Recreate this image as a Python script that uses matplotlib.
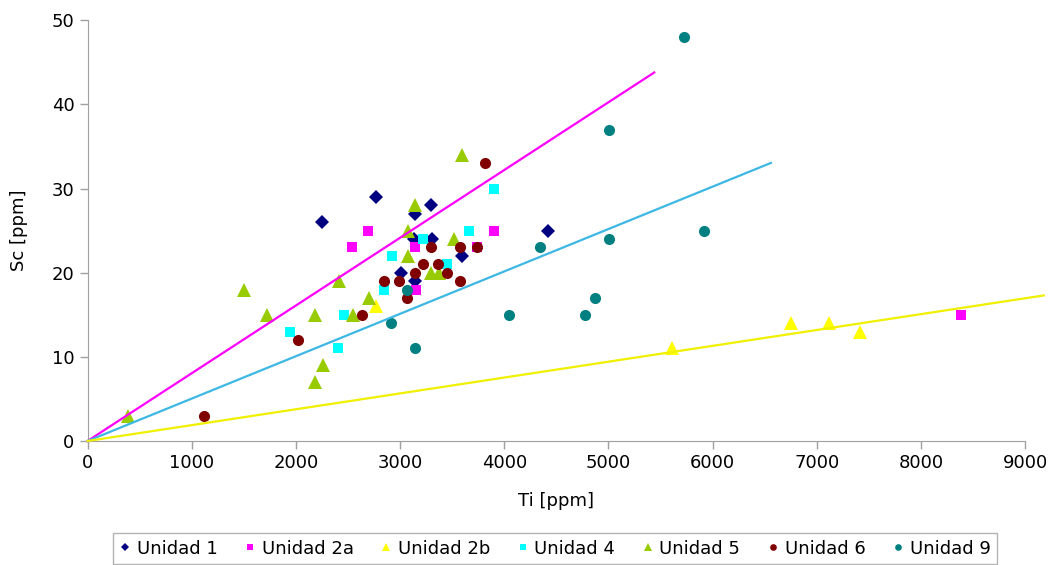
import matplotlib
matplotlib.use("Agg")
import matplotlib.pyplot as plt

plt.rcParams["font.family"] = ["DejaVu Sans"]

# Unidad 1
u1_ti = [2770, 2250, 3300, 3140, 4420, 3130, 3310, 3590, 3010, 3140]
u1_sc = [29, 26, 28, 27, 25, 24, 24, 22, 20, 19]
# Unidad 2a
u2a_ti = [2690, 2540, 3900, 3140, 3740, 3150, 8390]
u2a_sc = [25, 23, 25, 23, 23, 18, 15]
# Unidad 2b
u2b_ti = [2770, 5610, 6750, 7120, 7420]
u2b_sc = [16, 11, 14, 14, 13]
# Unidad 4
u4_ti = [2920, 2850, 2460, 1940, 2400, 3900, 3660, 3220, 3450]
u4_sc = [22, 18, 15, 13, 11, 30, 25, 24, 21]
# Unidad 5
u5_ti = [390, 1500, 1720, 2180, 2410, 2700, 2550, 2260, 2180, 3590, 3140, 3080, 3520, 3080, 3300, 3370]
u5_sc = [3, 18, 15, 15, 19, 17, 15, 9, 7, 34, 28, 25, 24, 22, 20, 20]
# Unidad 6
u6_ti = [2850, 2990, 2630, 2020, 1120, 3820, 3300, 3580, 3740, 3220, 3360, 3140, 3450, 3580, 3070]
u6_sc = [19, 19, 15, 12, 3, 33, 23, 23, 23, 21, 21, 20, 20, 19, 17]
# Unidad 9
u9_ti = [2910, 3070, 4050, 3140, 4340, 5730, 5010, 5010, 5920, 4870, 4780]
u9_sc = [14, 18, 15, 11, 23, 48, 37, 24, 25, 17, 15]

# lineas de referencia (desde el origen)
line_end_ti = [5440, 6560, 9180]
line_end_sc = [43.8, 33.05, 17.3]
line_colors = ["#FF00FF", "#3DB7E4", "#F0F000"]

series = [
    ("Unidad 1", u1_ti, u1_sc, "D", "#000080", 7.0),
    ("Unidad 2a", u2a_ti, u2a_sc, "s", "#FF00FF", 7.5),
    ("Unidad 2b", u2b_ti, u2b_sc, "^", "#FFFF00", 9.5),
    ("Unidad 4", u4_ti, u4_sc, "s", "#00FFFF", 7.5),
    ("Unidad 5", u5_ti, u5_sc, "^", "#99CC00", 9.5),
    ("Unidad 6", u6_ti, u6_sc, "o", "#800000", 8.0),
    ("Unidad 9", u9_ti, u9_sc, "o", "#008080", 8.0),
]

fig = plt.figure(figsize=(10.55, 5.65), dpi=100)
ax = fig.add_axes([0.083, 0.2195, 0.8886, 0.7445])

for name, x, y, m, c, ms in series:
    ax.plot(x, y, linestyle="none", marker=m, color=c, markersize=ms,
            markeredgewidth=0, label=name, zorder=2)

for xe, ye, c in zip(line_end_ti, line_end_sc, line_colors):
    ax.plot([0, xe], [0, ye], color=c, linewidth=1.6, zorder=3, clip_on=False)

ax.set_xlim(0, 9000)
ax.set_ylim(0, 50)
ax.set_xticks(range(0, 9001, 1000))
ax.set_yticks(range(0, 51, 10))
ax.set_xlabel("Ti [ppm]", fontsize=13)
ax.set_ylabel("Sc [ppm]", fontsize=13)
ax.xaxis.set_label_coords(0.5, -0.122)
ax.yaxis.set_label_coords(-0.064, 0.5)
ax.tick_params(labelsize=13, color="#A0A0A0", length=6, width=1)
for s in ["top", "right"]:
    ax.spines[s].set_visible(False)
for s in ["left", "bottom"]:
    ax.spines[s].set_color("#A0A0A0")

leg = fig.legend(loc="center", bbox_to_anchor=(0.526, 0.029), ncol=7, fontsize=13,
                 markerscale=0.6, handlelength=0.6, handletextpad=0.35,
                 columnspacing=1.5, fancybox=False, borderpad=0.35,
                 edgecolor="#A0A0A0")
leg.get_frame().set_linewidth(1)

fig.savefig("out.png", dpi=100)
